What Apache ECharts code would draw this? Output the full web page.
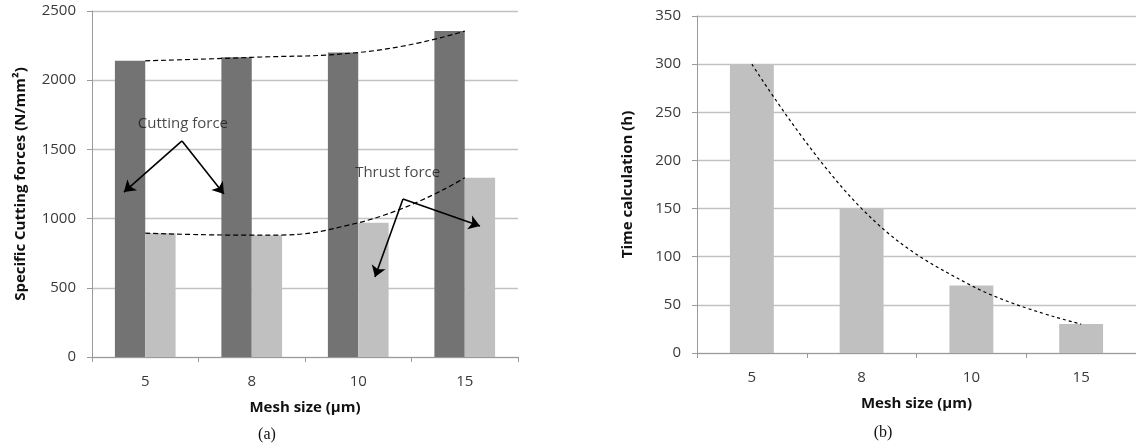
<!DOCTYPE html>
<html>
<head>
<meta charset="utf-8">
<script src="https://cdn.jsdelivr.net/npm/echarts@6/dist/echarts.min.js"></script>
<style>
html,body{margin:0;padding:0;background:#fff;}
#c{width:1136px;height:446px;}
</style>
</head>
<body>
<div id="c"></div>
<script>
// ---- data ----
const meshSizes = ['5', '8', '10', '15'];
const cuttingForce = [2140, 2165, 2200, 2355];
const thrustForce = [895, 880, 970, 1295];
const timeCalc = [300, 150, 70, 30];
const forceTicks = { min: 0, max: 2500, interval: 500 };
const timeTicks = { min: 0, max: 350, interval: 50 };

// annotation arrows (in data units of panel a: x = category index, y = value)
const cuttingArrows = [
  [[0.345, 1561], [-0.20, 1192]],
  [[0.345, 1561], [0.739, 1178]]
];
const thrustArrows = [
  [[2.42, 1142], [2.157, 578]],
  [[2.42, 1142], [3.143, 947]]
];
const annoTexts = [
  { name: 'Cutting force', value: [0.354, 1683] },
  { name: 'Thrust force', value: [2.37, 1329] }
];

const FONT = '"Open Sans", "Noto Sans", sans-serif';
const gridColor = '#c2c2c2';
const axisColor = '#9a9a9a';
const labelColor = '#3a3a3a';

function valueAxis(gridIndex, ticks, name, gap) {
  return {
    type: 'value', gridIndex, min: ticks.min, max: ticks.max, interval: ticks.interval,
    name, nameLocation: 'middle', nameGap: gap, nameRotate: 90,
    nameTextStyle: { fontFamily: FONT, fontWeight: 'bold', fontSize: 15, color: '#111' },
    axisLine: { show: true, onZero: false, lineStyle: { color: axisColor, width: 1 } },
    axisTick: { show: true, length: 5, lineStyle: { color: axisColor } },
    axisLabel: { fontFamily: FONT, fontSize: 15, color: labelColor, margin: 16, formatter: v => String(v) },
    splitLine: { show: true, lineStyle: { color: gridColor, width: 1.3 } }
  };
}
function catAxis(gridIndex) {
  return {
    type: 'category', gridIndex, data: meshSizes,
    name: 'Mesh size (\u00b5m)', nameLocation: 'middle', nameGap: 43,
    nameTextStyle: { fontFamily: FONT, fontWeight: 'bold', fontSize: 15, color: '#111' },
    axisLine: { show: true, onZero: false, lineStyle: { color: axisColor, width: 1 } },
    axisTick: { show: true, length: 5, lineStyle: { color: axisColor } },
    axisLabel: { fontFamily: FONT, fontSize: 15, color: labelColor, margin: 17 },
    splitLine: { show: false }
  };
}

const chart = echarts.init(document.getElementById('c'), null, { renderer: 'canvas' });
chart.setOption({
  animation: false,
  backgroundColor: '#fff',
  grid: [
    { left: 92, top: 11, width: 426, height: 346 },
    { left: 697, top: 16, width: 441, height: 337 }
  ],
  xAxis: [
    catAxis(0),
    catAxis(1),
    { type: 'value', gridIndex: 0, min: -0.5, max: 3.5, show: false,
      axisLine: { show: false, onZero: false }, splitLine: { show: false } }
  ],
  yAxis: [
    valueAxis(0, forceTicks, 'Specific Cutting forces (N/mm\u00b2)', 64),
    valueAxis(1, timeTicks, 'Time calculation (h)', 62)
  ],
  series: [
    {
      name: 'Cutting force', type: 'bar', xAxisIndex: 0, yAxisIndex: 0,
      data: cuttingForce, barCategoryGap: '43%', barGap: '0%',
      itemStyle: { color: '#737373' }
    },
    {
      name: 'Thrust force', type: 'bar', xAxisIndex: 0, yAxisIndex: 0,
      data: thrustForce, barCategoryGap: '43%', barGap: '0%',
      itemStyle: { color: '#c0c0c0' }
    },
    {
      type: 'line', xAxisIndex: 0, yAxisIndex: 0, data: cuttingForce,
      smooth: 0.5, showSymbol: false, symbol: 'none',
      lineStyle: { color: '#000', width: 1.2, type: [5, 3] }, z: 5
    },
    {
      type: 'line', xAxisIndex: 0, yAxisIndex: 0, data: thrustForce,
      smooth: 0.5, showSymbol: false, symbol: 'none',
      lineStyle: { color: '#000', width: 1.2, type: [5, 3] }, z: 5
    },
    {
      type: 'lines', coordinateSystem: 'cartesian2d', xAxisIndex: 2, yAxisIndex: 0,
      symbol: ['none', 'arrow'], symbolSize: [8, 11],
      lineStyle: { color: '#000', width: 1.6, opacity: 1 },
      data: cuttingArrows.concat(thrustArrows).map(c => ({ coords: c })), z: 6
    },
    {
      type: 'scatter', xAxisIndex: 2, yAxisIndex: 0, symbolSize: 2,
      itemStyle: { color: 'rgba(0,0,0,0)' },
      label: {
        show: true, position: 'inside', formatter: p => p.name,
        fontFamily: FONT, fontSize: 15, color: '#1a1a1a'
      },
      data: annoTexts, z: 7
    },
    {
      name: 'Time', type: 'bar', xAxisIndex: 1, yAxisIndex: 1,
      data: timeCalc, barCategoryGap: '60%',
      itemStyle: { color: '#c0c0c0' }
    },
    {
      type: 'line', xAxisIndex: 1, yAxisIndex: 1, data: timeCalc,
      smooth: 0.4, showSymbol: false, symbol: 'none',
      lineStyle: { color: '#000', width: 1.2, type: [3, 3] }, z: 5
    }
  ],
  graphic: [
    { type: 'text', x: 267, y: 435, style: { text: '(a)', font: '16px "Liberation Serif", serif', fill: '#111', textAlign: 'center', textVerticalAlign: 'middle' } },
    { type: 'text', x: 883, y: 433, style: { text: '(b)', font: '16px "Liberation Serif", serif', fill: '#111', textAlign: 'center', textVerticalAlign: 'middle' } }
  ]
});
</script>
</body>
</html>
